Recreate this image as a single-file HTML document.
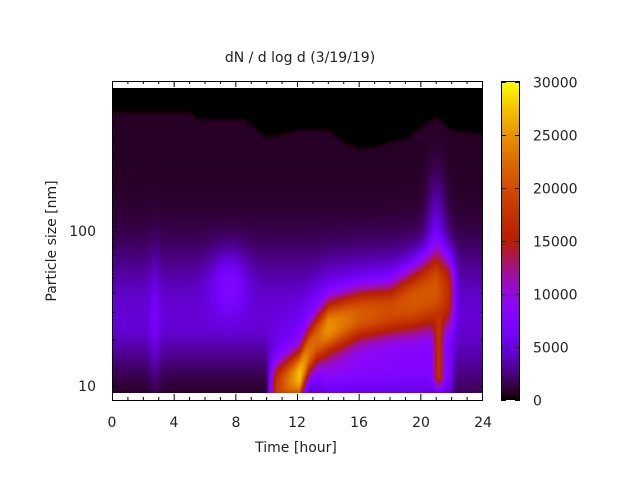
<!DOCTYPE html>
<html><head><meta charset="utf-8"><style>
html,body{margin:0;padding:0;background:#fff;width:640px;height:480px;overflow:hidden}
#c{position:absolute;left:113px;top:88px}
#cb{position:absolute;left:502px;top:82px}
svg{position:absolute;left:0;top:0}
text{font-family:"DejaVu Sans","Liberation Sans",sans-serif;font-size:14px;fill:#222}
</style></head><body>
<canvas id="c" width="369" height="305"></canvas>
<canvas id="cb" width="18" height="318"></canvas>
<svg width="640" height="480" xmlns="http://www.w3.org/2000/svg">
<g id="ax" stroke="#000" stroke-width="1" fill="none"></g>
<rect x="112.5" y="81.5" width="370" height="319" stroke="#000" fill="none"/>
<rect x="501.5" y="81.5" width="18" height="318" stroke="#000" fill="none"/>
<text x="300" y="62" text-anchor="middle">dN / d log d (3/19/19)</text>
<text x="296" y="452" text-anchor="middle">Time [hour]</text>
<text transform="translate(56,241) rotate(-90)" text-anchor="middle">Particle size [nm]</text>
<g text-anchor="middle">
<text x="112" y="427">0</text><text x="174" y="427">4</text><text x="236" y="427">8</text>
<text x="297" y="427">12</text><text x="359" y="427">16</text><text x="421" y="427">20</text><text x="483" y="427">24</text>
</g>
<g text-anchor="end"><text x="96" y="391">10</text><text x="96" y="236">100</text></g>
<g id="cbl"></g>
</svg>
<script>
function lerp(pts,t){if(t<=pts[0][0])return pts[0].slice(1);for(var i=1;i<pts.length;i++){if(t<=pts[i][0]){var a=pts[i-1],b=pts[i],f=(t-a[0])/(b[0]-a[0]);return a.slice(1).map(function(v,k){return v+(b[k+1]-v)*f});}}return pts[pts.length-1].slice(1);}
var bnd=[[0,110],[5,110],[5.5,117],[8.5,117],[9.5,130],[10,135],[12,128],[14,128],[15,140],[16,147],[17,145],[18,140],[19,137],[20,125],[21,115],[22,128],[24,132]];
var ban=[[9.9,1.0,0,0.15],[10.6,1.0,18000,0.15],[12.1,1.07,27500,0.16],[12.7,1.22,23000,0.15],[13.2,1.3,22000,0.15],[14,1.38,25000,0.16],[16,1.46,21500,0.16],[18,1.49,20000,0.16],[19.5,1.55,21000,0.2],[21,1.62,21000,0.24],[21.8,1.6,17000,0.22],[22.6,1.58,0,0.18],[24,1.6,0,0.18]];
function val(t,u,y){
 var by=lerp(bnd,t)[0]-88; if(y<by) return 0;
 var fade=Math.min(1,(y-by)/5);
 var v=700+4000*Math.exp(-Math.pow((u-1.45)/0.42,2));
 if(t<10) v*=0.45+0.55*Math.min(1,Math.max(0,(u-0.95)/0.4));
 v+=1800*Math.exp(-Math.pow((t-2.7)/0.35,2))*Math.exp(-Math.pow((u-1.4)/0.45,2));
 v+=3800*Math.exp(-Math.pow((t-7.5)/1.2,2)-Math.pow((u-1.68)/0.2,2));
 var b=lerp(ban,t),c=b[0],A=b[1],sw=b[2];
 var d=Math.abs(u-c);
 v+=A*0.2*Math.exp(-Math.pow(d/0.3,2));
 if(t>12.5&&t<22.3) v+=4500*Math.exp(-Math.pow((u-1.08)/0.2,2))*Math.min(1,(t-12.5)/1.5)*Math.min(1,(22.3-t)/0.5);
 v+=3500*Math.exp(-Math.pow((t-21)/0.6,2)-Math.pow((u-2.0)/0.35,2));
 var g=Math.exp(-Math.pow(d/sw,2.4));
 v=v+Math.max(0,A-v)*g;
 var sg=Math.exp(-Math.pow((t-21.15)/0.3,2))*(u<1.75?Math.min(1,Math.max(0,(u-0.96)/0.1)):0);
 v=v+Math.max(0,17500-v)*sg;
 return v*fade;
}
function col(v){var x=Math.max(0,Math.min(1,v/30000));return [Math.sqrt(x)*255,x*x*x*255,Math.max(0,Math.sin(2*Math.PI*x))*255];}
var cv=document.getElementById('c'),ctx=cv.getContext('2d'),W=369,H=305,im=ctx.createImageData(W,H);
for(var y=0;y<H;y++){var u=1+(298-y)/155;for(var x=0;x<W;x++){var t=x/369*24;var cc=col(val(t,u,y));var i=(y*W+x)*4;im.data[i]=cc[0];im.data[i+1]=cc[1];im.data[i+2]=cc[2];im.data[i+3]=255;}}
ctx.putImageData(im,0,0);
var cb=document.getElementById('cb'),c2=cb.getContext('2d');
for(var y=0;y<318;y++){var cc=col((317-y)/317*30000);c2.fillStyle='rgb('+cc.map(Math.round).join(',')+')';c2.fillRect(0,y,18,1);}
var ax=document.getElementById('ax'),s='';
function ln(x1,y1,x2,y2){s+='<line x1="'+x1+'" y1="'+y1+'" x2="'+x2+'" y2="'+y2+'"/>';}
for(var h=0;h<=24;h++){var x=112.5+h*370/24,L=(h%4==0)?6:3;ln(x,400,x,400-L);ln(x,81,x,81+L);}
[10,20,30,40,50,60,70,80,90,100,200,300,400,500,600,700,800].forEach(function(d){var y=386-(Math.log10(d)-1)*155+0.5;var L=(d==10||d==100)?6:3;ln(112,y,112+L,y);ln(483,y,483-L,y);});
var lb='';for(var k=0;k<=6;k++){var y=400-k*5000*318/30000+0.5;ln(501,y,506,y);ln(520,y,515,y);lb+='<text x="533" y="'+(y+5)+'">'+(k*5000)+'</text>';}
ax.innerHTML=s;document.getElementById('cbl').innerHTML=lb;
</script>
</body></html>
